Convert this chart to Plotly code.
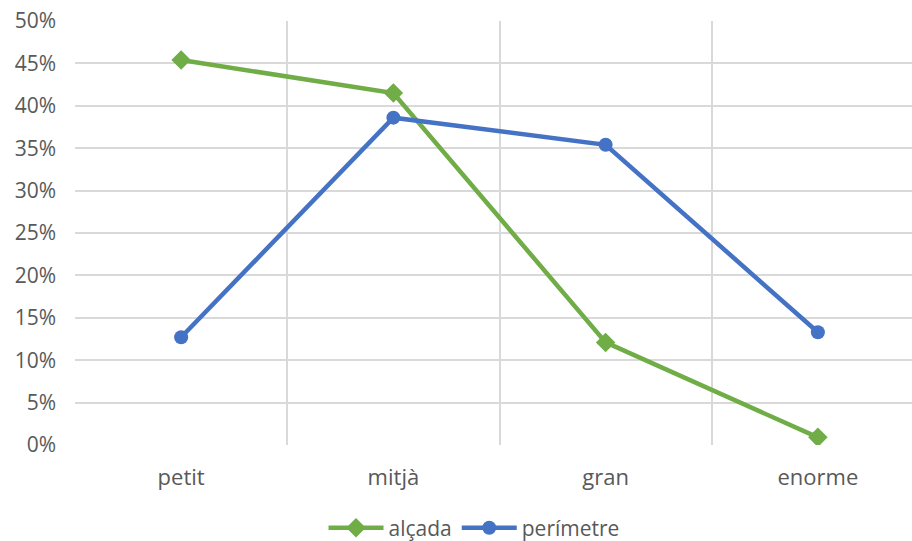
import plotly.graph_objects as go

categories = ["petit", "mitjà", "gran", "enorme"]
alcada = [0.454, 0.415, 0.121, 0.009]
perimetre = [0.127, 0.386, 0.354, 0.133]
y_ticks = [0, 0.05, 0.10, 0.15, 0.20, 0.25, 0.30, 0.35, 0.40, 0.45, 0.50]
y_labels = ["0%", "5%", "10%", "15%", "20%", "25%", "30%", "35%", "40%", "45%", "50%"]

fig = go.Figure()
fig.add_trace(go.Scatter(
    x=categories, y=alcada, name="alçada", mode="lines+markers",
    line=dict(color="#70AD47", width=4.5),
    marker=dict(symbol="diamond", size=15, color="#70AD47"),
))
fig.add_trace(go.Scatter(
    x=categories, y=perimetre, name="perímetre", mode="lines+markers",
    line=dict(color="#4472C4", width=4.5),
    marker=dict(symbol="circle", size=14, color="#4472C4"),
))

fig.update_layout(
    width=928, height=541,
    margin=dict(l=75, r=4, t=21, b=96, autoexpand=False),
    paper_bgcolor="white", plot_bgcolor="white",
    font=dict(family="Open Sans, sans-serif", color="#595959", size=21),
    showlegend=True,
    legend=dict(orientation="h", x=0.47, xanchor="center", y=-0.196, yanchor="middle",
                font=dict(size=21, color="#595959"), itemwidth=55),
    xaxis=dict(
        type="category", range=[-0.5, 3.5], tickson="boundaries",
        showgrid=True, gridcolor="#d9d9d9", gridwidth=1.5,
        ticks="", showline=False, zeroline=False, ticklabelstandoff=17,
        automargin=False,
        tickfont=dict(size=22, color="#595959"),
    ),
    yaxis=dict(
        range=[0, 0.5], tickvals=y_ticks, ticktext=y_labels,
        showgrid=True, gridcolor="#d9d9d9", gridwidth=1.5,
        zeroline=False, showline=False, ticks="", ticklabelstandoff=18,
        ticklabeloverflow="allow", automargin=False,
        tickfont=dict(size=21, color="#595959"),
    ),
)

fig.write_html(
    "out.html",
    config={"displayModeBar": False},
    post_script="document.body.style.margin='0';document.body.style.overflow='hidden';",
)
